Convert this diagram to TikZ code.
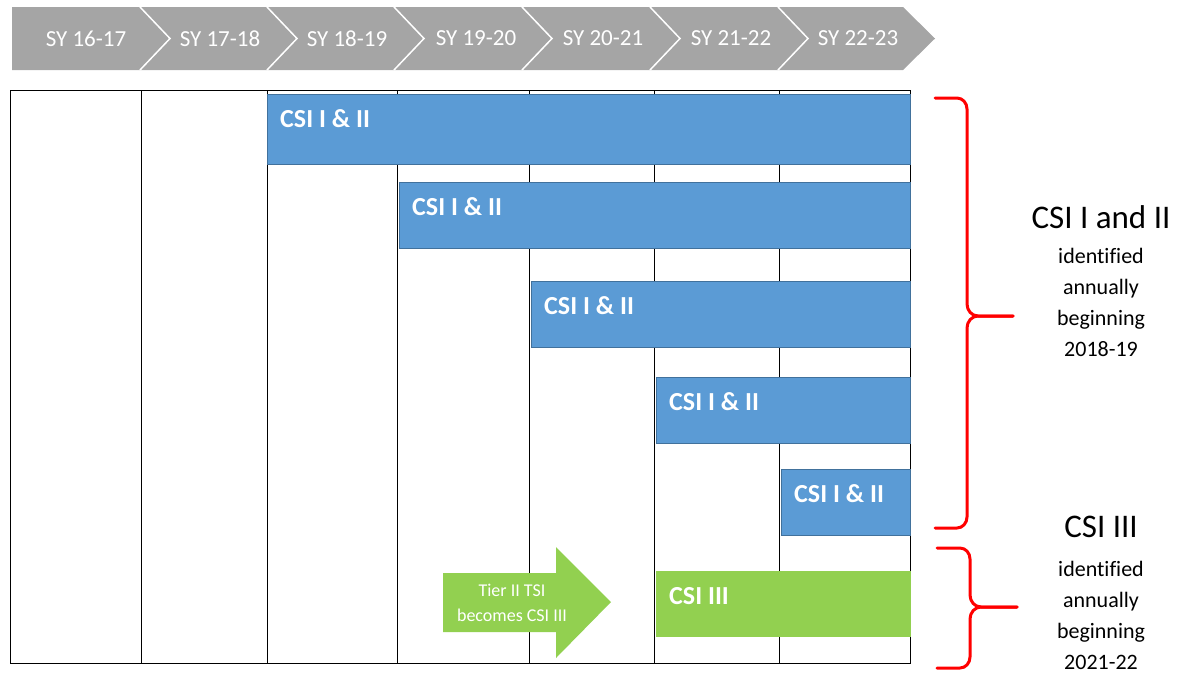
\documentclass[tikz,border=0pt]{standalone}
\usepackage{fontspec}
\setmainfont{Carlito}[Ligatures=NoCommon]
\usepackage{tikz}
\usetikzlibrary{calc}
\definecolor{chevgray}{HTML}{A5A5A5}
\definecolor{barblue}{HTML}{5B9BD5}
\definecolor{bardark}{HTML}{41719C}
\definecolor{bargreen}{HTML}{92D050}
\definecolor{bracered}{HTML}{FF0000}

\tikzset{
  yearlabel/.style={text=white, font=\fontsize{23}{26}\selectfont, inner sep=0pt},
  bluebar/.style={fill=barblue, draw=bardark, line width=0.8pt},
  greenbar/.style={fill=bargreen, draw=none},
  barlabel/.style={text=white, font=\bfseries\fontsize{26}{30}\selectfont, anchor=west, inner sep=0pt},
  bracemark/.style={draw=bracered, line width=3pt, line cap=round, line join=round},
  sidetitle/.style={font=\fontsize{33}{36}\selectfont, inner sep=0pt},
  sidetext/.style={font=\fontsize{22}{31}\selectfont, align=center, inner sep=0pt}
}

\begin{document}
\begin{tikzpicture}[x=1pt, y=-1pt]
    \useasboundingbox (0,0) rectangle (1183,673);
    % Year chevrons
    \fill[chevgray] (12,7) -- (903,7) -- (935,38.5) -- (903,70) -- (12,70) -- cycle;
    \foreach \r in {140,267,394,522,650,778}
      \draw[white, line width=1.5pt] (\r,7) -- (\r+30,38.5) -- (\r,70);
    \foreach \c/\t [count=\i] in {86/{SY 16-17},220/{SY 17-18},347/{SY 18-19},476/{SY 19-20},603/{SY 20-21},731/{SY 21-22},858/{SY 22-23}}
      \node[yearlabel] (sy\i) at (\c,38.5) {\t};
    % Table grid
    \draw[line width=1pt] (10,90) rectangle (910,663);
    \foreach \x in {141,267,397,529,654,779}
      \draw[line width=1pt] (\x,90) -- (\x,663);
    % CSI I & II bars
    \foreach \l/\t/\b [count=\i] in {267/94/164,399/182/248,531/281/347,656/377/443,781/469/535}{
      \draw[bluebar] (\l,\t) rectangle (910,\b);
      \node[barlabel] (bar\i) at (\l+13,\t+25) {CSI I \& II};
    }
    % CSI III bar
    \fill[greenbar] (656,571) rectangle (911,637);
    \node[barlabel] (bar6) at (669,596) {CSI III};
    % Tier II arrow
    \fill[bargreen] (443,573) -- (556,573) -- (556,547) -- (611,602) -- (556,658) -- (556,632) -- (443,632) -- cycle;
    \node[text=white, font=\fontsize{18}{25}\selectfont, align=center, inner sep=0pt] (tier) at (512,603) {Tier II TSI\\becomes CSI III};
    % Braces
    \coordinate (tipA) at (1013,316);
    \coordinate (tipB) at (1017,607);
    \draw[bracemark] (935,98) -- (957,98) to[out=0,in=90] (967,109) -- (967,304)
      to[out=-90,in=180] (978,316) -- (tipA);
    \draw[bracemark] (tipA) -- (978,316) to[out=180,in=90] (967,328) -- (967,517)
      to[out=-90,in=0] (957,528) -- (935,528);
    \draw[bracemark] (937,548) -- (960,548) to[out=0,in=90] (970,559) -- (970,595)
      to[out=-90,in=180] (981,607) -- (tipB);
    \draw[bracemark] (tipB) -- (981,607) to[out=180,in=90] (970,619) -- (970,657)
      to[out=-90,in=0] (960,668) -- (937,668);
    % Side labels
    \node[sidetitle] (csiA) at (1101,217) {CSI I and II};
    \node[sidetext] (textA) at (1101,302) {identified\\annually\\beginning\\2018-19};
    \node[sidetitle] (csiB) at (1101,527) {CSI III};
    \node[sidetext] (textB) at (1101,615) {identified\\annually\\beginning\\2021-22};
\end{tikzpicture}
\end{document}
